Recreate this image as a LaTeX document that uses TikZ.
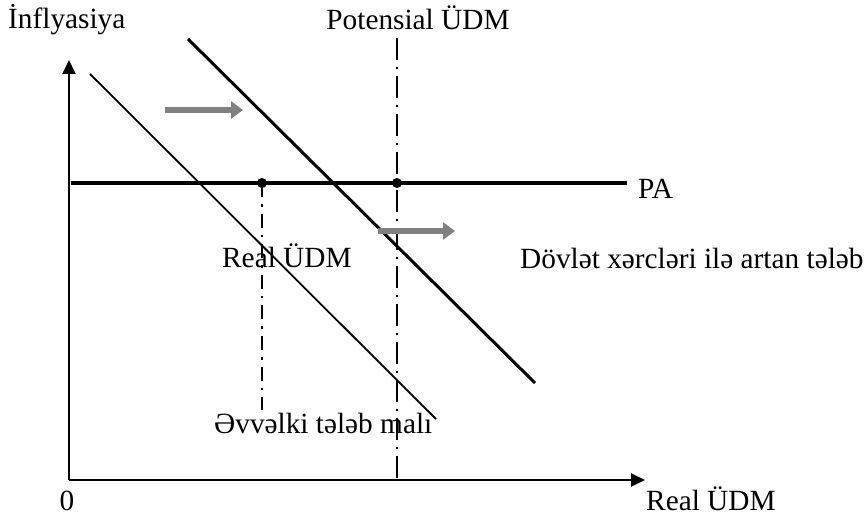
\documentclass[tikz,border=0pt]{standalone}
\usepackage{fontspec}
\setmainfont{Liberation Serif}
\usetikzlibrary{arrows.meta}
\begin{document}
\begin{tikzpicture}[x=1pt,y=-1pt,
  font=\fontsize{29.3}{33}\selectfont,
  lbl/.style={inner sep=0pt, anchor=base west},
  axis/.style={line width=2pt, -{Triangle[length=14pt,width=13pt]}},
  palinie/.style={line width=3.8pt},
  olddem/.style={line width=1.8pt},
  newdem/.style={line width=3pt},
  potline/.style={line width=1.3pt, dash pattern=on 22pt off 7pt on 2pt off 7pt},
  realline/.style={line width=2.6pt, dash pattern=on 14pt off 7pt on 2.6pt off 7pt},
  shiftarrow/.style={line width=5.5pt, draw={rgb,255:red,128;green,128;blue,128}, -{Triangle[length=12pt,width=17pt]}},
  dot/.style={circle, fill=black, inner sep=0pt, minimum size=10pt}
]
\useasboundingbox (0,0) rectangle (867,516);
% coordinates
\coordinate (O) at (69,480);
\coordinate (ytop) at (69,60);
\coordinate (xend) at (645,480);
\coordinate (paL) at (71,183);
\coordinate (paR) at (627,183);
\coordinate (oldA) at (90,74);
\coordinate (oldB) at (436,419);
\coordinate (newA) at (188,39);
\coordinate (newB) at (535,383);
\coordinate (potT) at (397,38);
\coordinate (potB) at (397,480);
\coordinate (realB) at (262,410);
\coordinate (a1s) at (165,110);
\coordinate (a1e) at (243,110);
\coordinate (a2s) at (378,231);
\coordinate (a2e) at (455,231);
% axes
\draw[axis] (O) -- (ytop);
\draw[axis] (O) -- (xend);
% vertical lines
\draw[potline] (potT) -- (potB);
\node[dot] (d1) at (262,183) {};
\node[dot] (d2) at (397,183) {};
\draw[realline] (d1.center) -- (realB);
% PA
\draw[palinie] (paL) -- (paR);
% demand lines
\draw[olddem] (oldA) -- (oldB);
\draw[newdem] (newA) -- (newB);
% shift arrows
\draw[shiftarrow] (a1s) -- (a1e);
\draw[shiftarrow] (a2s) -- (a2e);
% labels
\node[lbl] (tinf) at (8,29) {İnflyasiya};
\node[inner sep=0pt, anchor=base] (tpot) at (418,30) {Potensial ÜDM};
\node[lbl] (tpa) at (638,198) {PA};
\node[lbl] (treal) at (222,267) {Real ÜDM};
\node[lbl] (tdov) at (520,268) {Dövlət xərcləri ilə artan tələb};
\node[lbl] (tevv) at (214,433) {Əvvəlki tələb malı};
\node[inner sep=0pt, anchor=base] (t0) at (67,510) {0};
\node[lbl] (txax) at (646,510) {Real ÜDM};
\end{tikzpicture}
\end{document}
